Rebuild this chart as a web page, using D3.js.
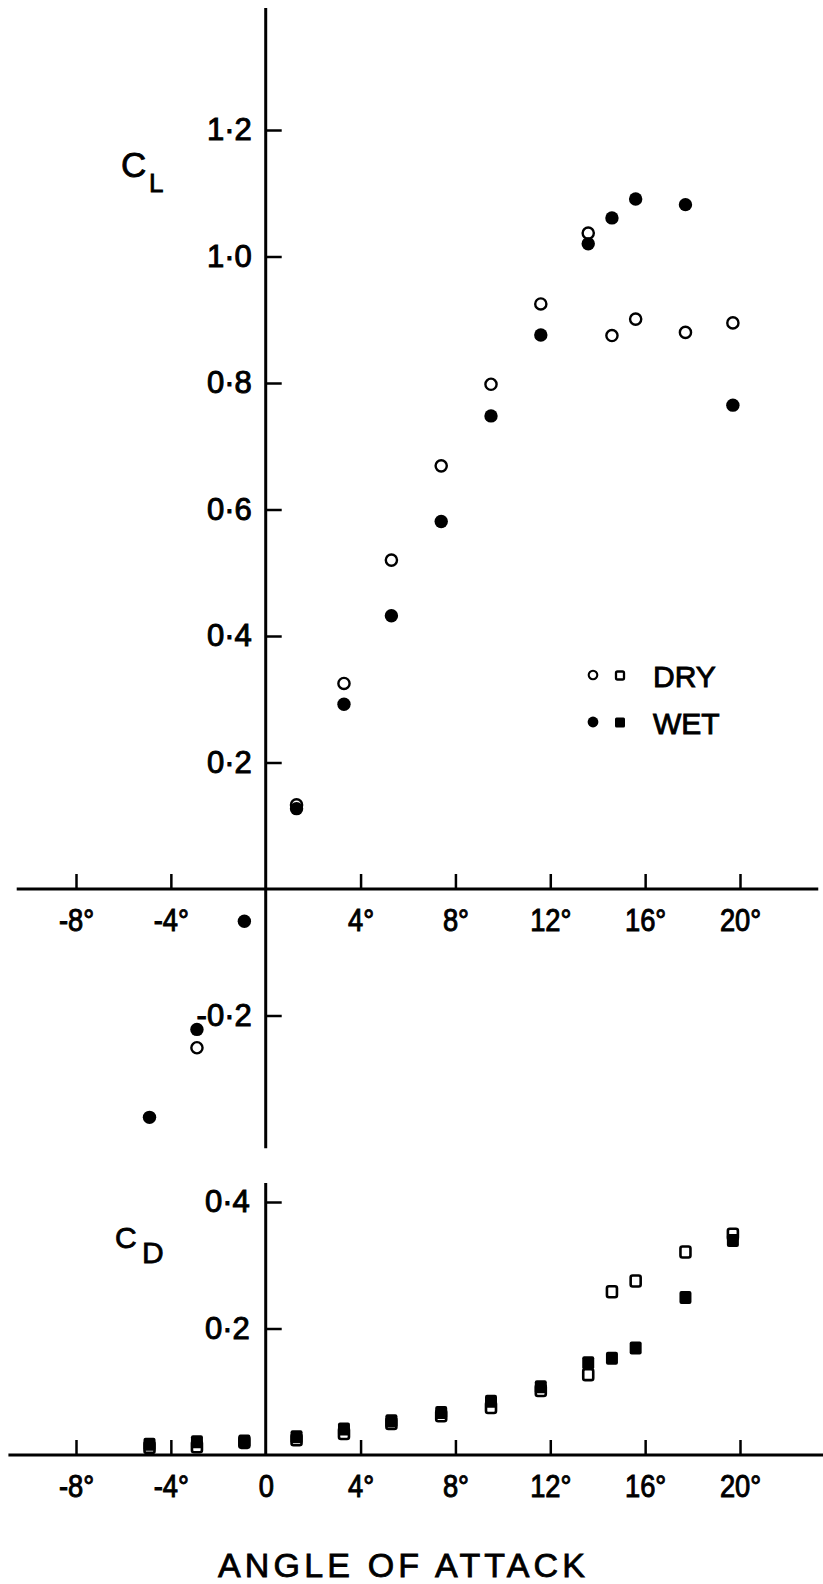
<!DOCTYPE html>
<html>
<head>
<meta charset="utf-8">
<script src="https://cdn.jsdelivr.net/npm/d3@7"></script>
<style>
	body { margin: 0; background: #fff; }
	svg { display: block; }
</style>
</head>
<body>
<script>
// chart size
var width = 823, height = 1584;
var font = "'Liberation Sans', Arial, Helvetica, sans-serif";

// angle of attack (degrees) for every test point
var angle = [-4.9, -2.9, -0.9, 1.3, 3.3, 5.3, 7.4, 9.5, 11.6, 13.6, 14.6, 15.6, 17.7, 19.7];

// lift coefficient, dry and wet (null = no point)
var clDry = [null, -0.251, null, 0.133, 0.325, 0.520, 0.669, 0.798, 0.925, 1.037, 0.875, 0.901, 0.880, 0.895];
var clWet = [-0.361, -0.222, -0.051, 0.127, 0.292, 0.432, 0.581, 0.748, 0.876, 1.020, 1.061, 1.091, 1.082, 0.765];

// drag coefficient, dry and wet
var cdDry = [0.012, 0.013, 0.020, 0.024, 0.034, 0.050, 0.062, 0.075, 0.102, 0.127, 0.258, 0.275, 0.321, 0.349];
var cdWet = [0.017, 0.021, 0.022, 0.029, 0.041, 0.054, 0.067, 0.085, 0.108, 0.146, 0.153, 0.169, 0.249, 0.339];

// tick values
var xTicksLift = [-8, -4, 4, 8, 12, 16, 20];
var xTicksDrag = [-8, -4, 0, 4, 8, 12, 16, 20];
var yTicksLift = [-0.2, 0.2, 0.4, 0.6, 0.8, 1.0, 1.2];
var yTicksDrag = [0.2, 0.4];

var legendLabels = ['DRY', 'WET'];

var x = d3.scaleLinear().domain([-8, 20]).range([76, 740]);
var yL = d3.scaleLinear().domain([0, 1.2]).range([889, 130]);
var yD = d3.scaleLinear().domain([0, 0.4]).range([1455, 1202]);

var svg = d3.select('body')
	.append('svg')
	.attr('width', width)
	.attr('height', height);

function degFormat(d){
	return d == 0 ? '0' : String(d) + '\u00b0';
}
function coefFormat(d){
	return d3.format('.1f')(d).replace('\u2212', '-').replace('.', '\u00b7');
}

// squeeze: horizontal scale of the labels (x labels in the scan are condensed)
function style_axis(squeeze){
	return function(g){
		g.select('.domain').remove();
		g.attr('font-size', 31).attr('font-family', font);
		g.selectAll('.tick line').attr('stroke', '#000').attr('stroke-width', 2.5);
		g.selectAll('.tick text')
			.attr('fill', '#000')
			.attr('stroke', '#000').attr('stroke-width', 1)
			.attr('x', function(){ return +d3.select(this).attr('x') / squeeze; })
			.attr('transform', 'scale(' + squeeze + ',1)');
	};
}

// ---- lift panel ----
svg.append('g')
	.attr('transform', 'translate(0,' + yL(0) + ')')
	.call(d3.axisBottom(x).tickValues(xTicksLift).tickSizeInner(-15).tickSizeOuter(0).tickPadding(20).tickFormat(degFormat))
	.call(style_axis(0.88));

svg.append('g')
	.attr('transform', 'translate(' + x(0) + ',0)')
	.call(d3.axisLeft(yL).tickValues(yTicksLift).tickSizeInner(-16).tickSizeOuter(0).tickPadding(14).tickFormat(coefFormat))
	.call(style_axis(1));

// axis lines
svg.append('line')
	.attr('x1', x(-10.5)).attr('x2', x(23.3))
	.attr('y1', yL(0)).attr('y2', yL(0))
	.attr('stroke', '#000').attr('stroke-width', 3);
svg.append('line')
	.attr('x1', x(0)).attr('x2', x(0))
	.attr('y1', yL(1.393)).attr('y2', yL(-0.41))
	.attr('stroke', '#000').attr('stroke-width', 3);

var liftDry = angle.map(function(a, i){ return {a: a, v: clDry[i]}; }).filter(function(d){ return d.v != null; });
var liftWet = angle.map(function(a, i){ return {a: a, v: clWet[i]}; });

svg.append('g').selectAll('circle')
	.data(liftDry)
	.enter()
	.append('circle')
	.attr('cx', function(d){ return x(d.a); })
	.attr('cy', function(d){ return yL(d.v); })
	.attr('r', 5.6)
	.attr('fill', '#fff')
	.attr('stroke', '#000')
	.attr('stroke-width', 2.4);

svg.append('g').selectAll('circle')
	.data(liftWet)
	.enter()
	.append('circle')
	.attr('cx', function(d){ return x(d.a); })
	.attr('cy', function(d){ return yL(d.v); })
	.attr('r', 6.7)
	.attr('fill', '#000');

svg.append('text')
	.attr('x', 121).attr('y', 177)
	.attr('font-family', font).attr('font-size', 35)
	.attr('stroke', '#000').attr('stroke-width', 0.8)
	.text('C')
	.append('tspan')
	.attr('x', 149).attr('y', 192)
	.attr('font-size', 26)
	.text('L');

// legend
var legend = svg.append('g').attr('transform', 'translate(593,675)');
legend.selectAll('.row')
	.data(legendLabels)
	.enter()
	.append('g')
	.attr('class', 'row')
	.attr('transform', function(d, i){ return 'translate(0,' + i * 47 + ')'; })
	.each(function(d, i){
		var g = d3.select(this);
		g.append('circle').attr('r', i == 0 ? 4.3 : 5.4)
			.attr('fill', i == 0 ? '#fff' : '#000')
			.attr('stroke', '#000').attr('stroke-width', i == 0 ? 2.1 : 0);
		g.append('rect').attr('x', i == 0 ? 23 : 22).attr('y', i == 0 ? -3.5 : -4.5)
			.attr('width', i == 0 ? 8 : 10).attr('height', i == 0 ? 8 : 10).attr('rx', 1.5)
			.attr('fill', i == 0 ? '#fff' : '#000')
			.attr('stroke', '#000').attr('stroke-width', i == 0 ? 2.3 : 0);
		g.append('text').attr('x', 60).attr('y', 12)
			.attr('font-family', font).attr('font-size', 30)
			.attr('stroke', '#000').attr('stroke-width', 0.9)
			.text(d);
	});

// ---- drag panel ----
svg.append('g')
	.attr('transform', 'translate(0,' + yD(0) + ')')
	.call(d3.axisBottom(x).tickValues(xTicksDrag).tickSizeInner(-15).tickSizeOuter(0).tickPadding(20).tickFormat(degFormat))
	.call(style_axis(0.88))
	.selectAll('.tick')
	.filter(function(d){ return d == 0; })
	.select('line').remove();

svg.append('g')
	.attr('transform', 'translate(' + x(0) + ',0)')
	.call(d3.axisLeft(yD).tickValues(yTicksDrag).tickSizeInner(-16).tickSizeOuter(0).tickPadding(16).tickFormat(coefFormat))
	.call(style_axis(1));

svg.append('line')
	.attr('x1', x(-10.85)).attr('x2', x(23.6))
	.attr('y1', yD(0)).attr('y2', yD(0))
	.attr('stroke', '#000').attr('stroke-width', 3);
svg.append('line')
	.attr('x1', x(0)).attr('x2', x(0))
	.attr('y1', yD(0.43)).attr('y2', yD(0))
	.attr('stroke', '#000').attr('stroke-width', 3);

var dragDry = angle.map(function(a, i){ return {a: a, v: cdDry[i]}; });
var dragWet = angle.map(function(a, i){ return {a: a, v: cdWet[i]}; });

svg.append('g').selectAll('rect')
	.data(dragDry)
	.enter()
	.append('rect')
	.attr('x', function(d){ return x(d.a) - 5; })
	.attr('y', function(d){ return yD(d.v) - 5.5; })
	.attr('width', 10).attr('height', 11).attr('rx', 2)
	.attr('fill', '#fff')
	.attr('stroke', '#000')
	.attr('stroke-width', 2.6);

svg.append('g').selectAll('rect')
	.data(dragWet)
	.enter()
	.append('rect')
	.attr('x', function(d){ return x(d.a) - 6; })
	.attr('y', function(d){ return yD(d.v) - 6.5; })
	.attr('width', 12).attr('height', 13).attr('rx', 2)
	.attr('fill', '#000');

svg.append('text')
	.attr('x', 115).attr('y', 1248)
	.attr('font-family', font).attr('font-size', 30)
	.attr('stroke', '#000').attr('stroke-width', 0.8)
	.text('C')
	.append('tspan')
	.attr('x', 142).attr('y', 1263)
	.text('D');

// x title
svg.append('text')
	.attr('x', 218).attr('y', 1577)
	.attr('font-family', font).attr('font-size', 34)
	.attr('stroke', '#000').attr('stroke-width', 0.8)
	.attr('textLength', 367).attr('lengthAdjust', 'spacing')
	.text('ANGLE OF ATTACK');
</script>
</body>
</html>
